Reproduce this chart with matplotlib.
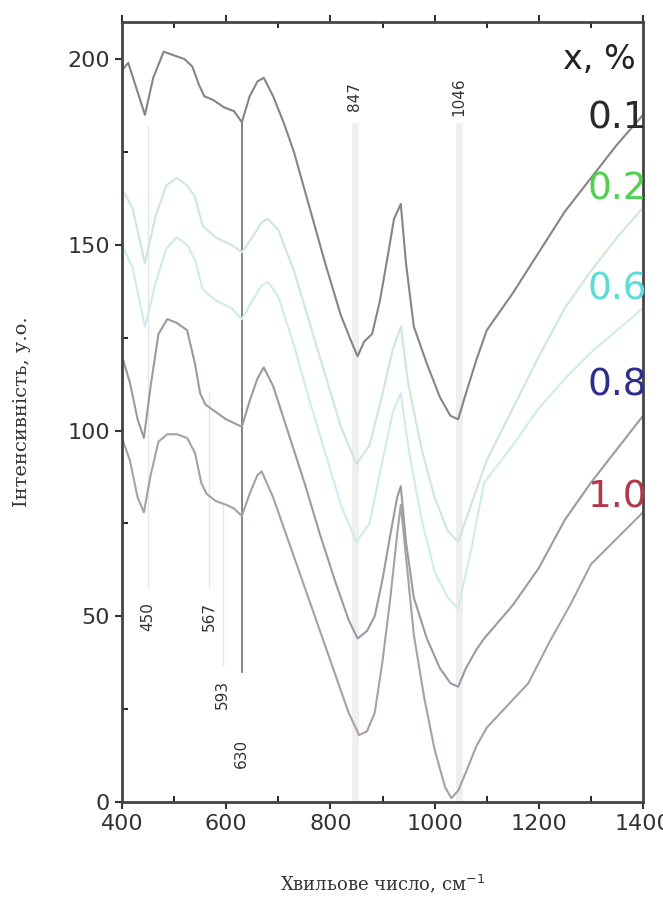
import numpy as np
import matplotlib
matplotlib.use("Agg")
import matplotlib.pyplot as plt
from matplotlib.ticker import MultipleLocator

#======== data ========
x01 = [400, 412, 428, 444, 460, 480, 500, 520, 535, 548, 558, 575, 596, 615, 630, 645, 660, 672, 690, 710,
       730, 760, 790, 820, 840, 852, 865, 880, 895, 910, 922, 935, 945, 960, 985, 1010, 1030, 1045, 1060,
       1080, 1100, 1150, 1200, 1250, 1300, 1350, 1400]
y01 = [197, 199, 192, 185, 195, 202, 201, 200, 198, 193, 190, 189, 187, 186, 183, 190, 194, 195, 190, 183,
       175, 160, 145, 131, 124, 120, 124, 126, 135, 147, 157, 161, 145, 128, 118, 109, 104, 103, 110,
       119, 127, 137, 148, 159, 168, 177, 185]

x02 = [400, 420, 444, 465, 485, 505, 525, 540, 555, 580, 610, 630, 650, 668, 680, 700, 730, 760, 790, 820,
       850, 875, 900, 920, 935, 950, 975, 1000, 1025, 1045, 1070, 1100, 1150, 1200, 1250, 1300, 1350, 1400]
y02 = [165, 160, 145, 158, 166, 168, 166, 163, 155, 152, 150, 148, 152, 156, 157, 154, 143, 129, 115, 101,
       91, 96, 110, 122, 128, 112, 95, 82, 73, 70, 80, 92, 106, 120, 133, 143, 152, 160]

x06 = [400, 420, 444, 465, 485, 505, 525, 540, 555, 580, 610, 630, 650, 668, 680, 700, 730, 760, 790, 820,
       850, 875, 900, 920, 935, 950, 975, 1000, 1025, 1045, 1070, 1095, 1150, 1200, 1250, 1300, 1350, 1400]
y06 = [150, 144, 128, 140, 149, 152, 150, 146, 138, 135, 133, 130, 135, 139, 140, 136, 123, 108, 94, 80,
       70, 75, 92, 105, 110, 95, 76, 62, 55, 52, 68, 86, 96, 106, 114, 121, 127, 133]

x08 = [400, 415, 430, 442, 455, 470, 487, 505, 525, 540, 550, 560, 580, 600, 615, 630, 645, 660, 672, 690,
       720, 750, 780, 810, 835, 852, 870, 885, 900, 915, 928, 935, 945, 960, 985, 1010, 1030, 1045, 1060,
       1080, 1095, 1150, 1200, 1250, 1300, 1350, 1400]
y08 = [120, 113, 103, 98, 112, 126, 130, 129, 127, 118, 110, 107, 105, 103, 102, 101, 108, 114, 117, 112,
       99, 86, 72, 59, 49, 44, 46, 50, 60, 72, 82, 85, 70, 55, 44, 36, 32, 31, 36, 41, 44, 53, 63, 76, 86,
       95, 104]

x10 = [400, 415, 430, 442, 455, 470, 487, 505, 525, 540, 552, 562, 580, 600, 615, 630, 645, 660, 668, 690,
       720, 750, 780, 810, 835, 855, 870, 885, 900, 915, 928, 935, 945, 960, 980, 1000, 1020, 1032, 1045,
       1060, 1080, 1100, 1140, 1180, 1220, 1260, 1300, 1350, 1400]
y10 = [98, 92, 82, 78, 88, 97, 99, 99, 98, 94, 86, 83, 81, 80, 79, 77, 83, 88, 89, 82,
       70, 58, 46, 34, 24, 18, 19, 24, 38, 55, 72, 80, 66, 45, 28, 14, 4, 1, 3,
       8, 15, 20, 26, 32, 43, 53, 64, 71, 78]

series_x = [x01, x02, x06, x08, x10]
series_y = [y01, y02, y06, y08, y10]
line_colors = ["#858585", "#cde9d4", "#d0ebec", "#9a9aa4", "#aa9fa2"]

conc_labels = ["0.1", "0.2", "0.6", "0.8", "1.0"]
conc_label_y = [184, 165, 138, 112, 82]
conc_colors = ["#2a2a2a", "#4fd04f", "#5cdcd6", "#2e2e8c", "#b03848"]

top_peaks = [847, 1046]
bottom_peaks = [450, 567, 593, 630]
bottom_peak_y = [50, 50, 29, 13]

#======== figure ========
fig = plt.figure(figsize=(6.63, 8.98), dpi=100)
ax = fig.add_axes([0.184, 0.107, 0.786, 0.8685])

# faint guide lines
for p in top_peaks:
    ax.plot([p, p], [0, 182], color="#efefef", lw=5, zorder=0)
ax.plot([450, 450], [58, 182], color="#e6e6e6", lw=1, zorder=0)
ax.plot([567, 567], [58, 110], color="#e6e6e6", lw=1, zorder=0)
ax.plot([593, 593], [37, 80], color="#e6e6e6", lw=1, zorder=0)
ax.plot([630, 630], [35, 183], color="#7a7a7a", lw=1.3, zorder=1)

for xs, ys, c in zip(series_x, series_y, line_colors):
    ax.plot(xs, ys, color=c, lw=1.5, zorder=2)

for p in top_peaks:
    ax.text(p, 190, str(p), rotation=90, ha="center", va="center", fontsize=11,
            color="#333333")
for p, py in zip(bottom_peaks, bottom_peak_y):
    ax.text(p, py, str(p), rotation=90, ha="center", va="center", fontsize=11,
            color="#333333")

ax.text(1385, 200, "x, %", ha="right", va="center", fontsize=24, color="#222222")
for lab, ly, c in zip(conc_labels, conc_label_y, conc_colors):
    ax.text(1408, ly, lab, ha="right", va="center", fontsize=27, color=c, clip_on=False)

ax.set_xlim(400, 1400)
ax.set_ylim(0, 210)
ax.xaxis.set_major_locator(MultipleLocator(200))
ax.xaxis.set_minor_locator(MultipleLocator(100))
ax.yaxis.set_major_locator(MultipleLocator(50))
ax.yaxis.set_minor_locator(MultipleLocator(25))
ax.set_xticks([400, 600, 800, 1000, 1200, 1400])
ax.set_xticklabels(["400", "600", "800", "1000", "1200", "1400"])
ax.tick_params(which="major", direction="out", length=5, width=1.5, labelsize=16,
               colors="#333333", top=True)
ax.tick_params(which="minor", direction="in", length=4, width=1.2, top=True)
for s in ax.spines.values():
    s.set_linewidth(2)
    s.set_color("#444444")

ax.set_xlabel("Хвильове число, см$^{-1}$", fontsize=13, family="DejaVu Serif",
              color="#333333", labelpad=28)
ax.set_ylabel("Інтенсивність, у.о.", fontsize=14, family="DejaVu Serif",
              color="#333333", labelpad=26)

fig.savefig("out.png", dpi=100)
